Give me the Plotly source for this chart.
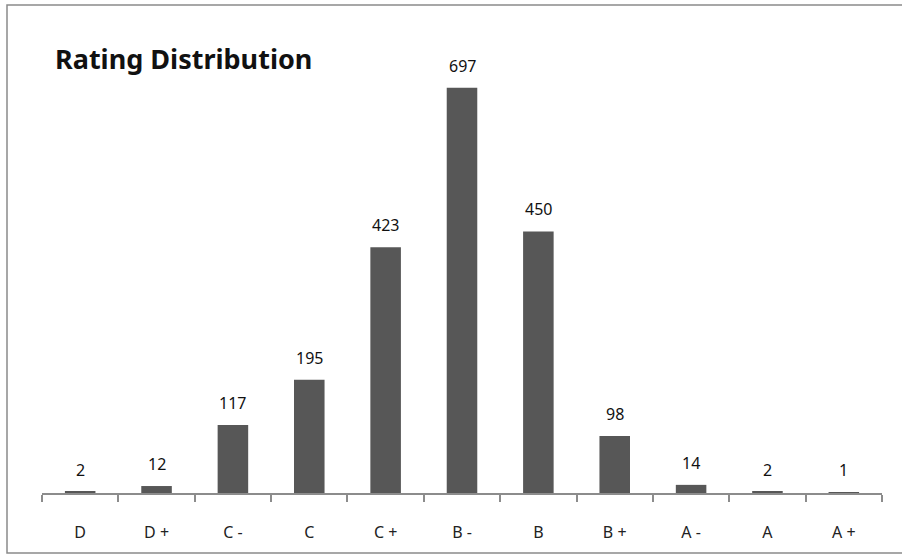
import plotly.graph_objects as go

categories = ["D", "D+", "C-", "C", "C+", "B-", "B", "B+", "A-", "A", "A+"]
tick_labels = ["D", "D +", "C -", "C", "C +", "B -", "B", "B +", "A -", "A", "A +"]
counts = [2, 12, 117, 195, 423, 697, 450, 98, 14, 2, 1]

FONT = "Noto Sans"

fig = go.Figure(
    go.Bar(
        x=categories,
        y=counts,
        marker=dict(color="#575757", line=dict(width=0)),
        width=0.4,
        cliponaxis=False,
        hoverinfo="skip",
    )
)

L, R, T, B = 42, 20, 28, 62
W, H = 902, 555
pw, ph = W - L - R, H - T - B

annotations = [
    dict(
        x=c, y=v, xref="x", yref="y",
        text=str(v), showarrow=False,
        xanchor="center", yanchor="bottom", yshift=9,
        font=dict(family=FONT, size=16, color="#111111"),
    )
    for c, v in zip(categories, counts)
]
annotations.append(
    dict(
        text="<b>Rating Distribution</b>",
        xref="paper", yref="paper",
        x=(53 - L) / pw, y=(T + ph - 58) / ph,
        xanchor="left", yanchor="middle",
        showarrow=False,
        font=dict(family=FONT, size=27, color="#111111"),
    )
)

fig.update_layout(
    width=W,
    height=H,
    margin=dict(l=L, r=R, t=T, b=B),
    paper_bgcolor="white",
    plot_bgcolor="white",
    showlegend=False,
    font=dict(family=FONT, size=16, color="#111111"),
    xaxis=dict(
        type="category",
        tickvals=categories,
        ticktext=tick_labels,
        showline=True,
        linecolor="#8c8c8c",
        linewidth=1.5,
        ticks="outside",
        tickson="boundaries",
        ticklen=7,
        tickcolor="#8c8c8c",
        tickwidth=1.5,
        ticklabelstandoff=24,
        tickfont=dict(family=FONT, size=16, color="#222222"),
        showgrid=False,
        zeroline=False,
        fixedrange=True,
    ),
    yaxis=dict(
        range=[0, 800],
        visible=False,
        showgrid=False,
        zeroline=False,
        fixedrange=True,
    ),
    shapes=[
        dict(
            type="rect",
            xref="paper", yref="paper",
            x0=(7 - L) / pw, x1=(910 - L) / pw,
            y0=(T + ph - 553) / ph, y1=(T + ph - 5) / ph,
            line=dict(color="#8a8a8a", width=1.5),
            fillcolor="rgba(0,0,0,0)",
            layer="above",
        )
    ],
    annotations=annotations,
)

fig.write_html(
    "out.html",
    config={"displayModeBar": False},
    post_script="document.body.style.margin='0';document.body.style.overflow='hidden';",
)
